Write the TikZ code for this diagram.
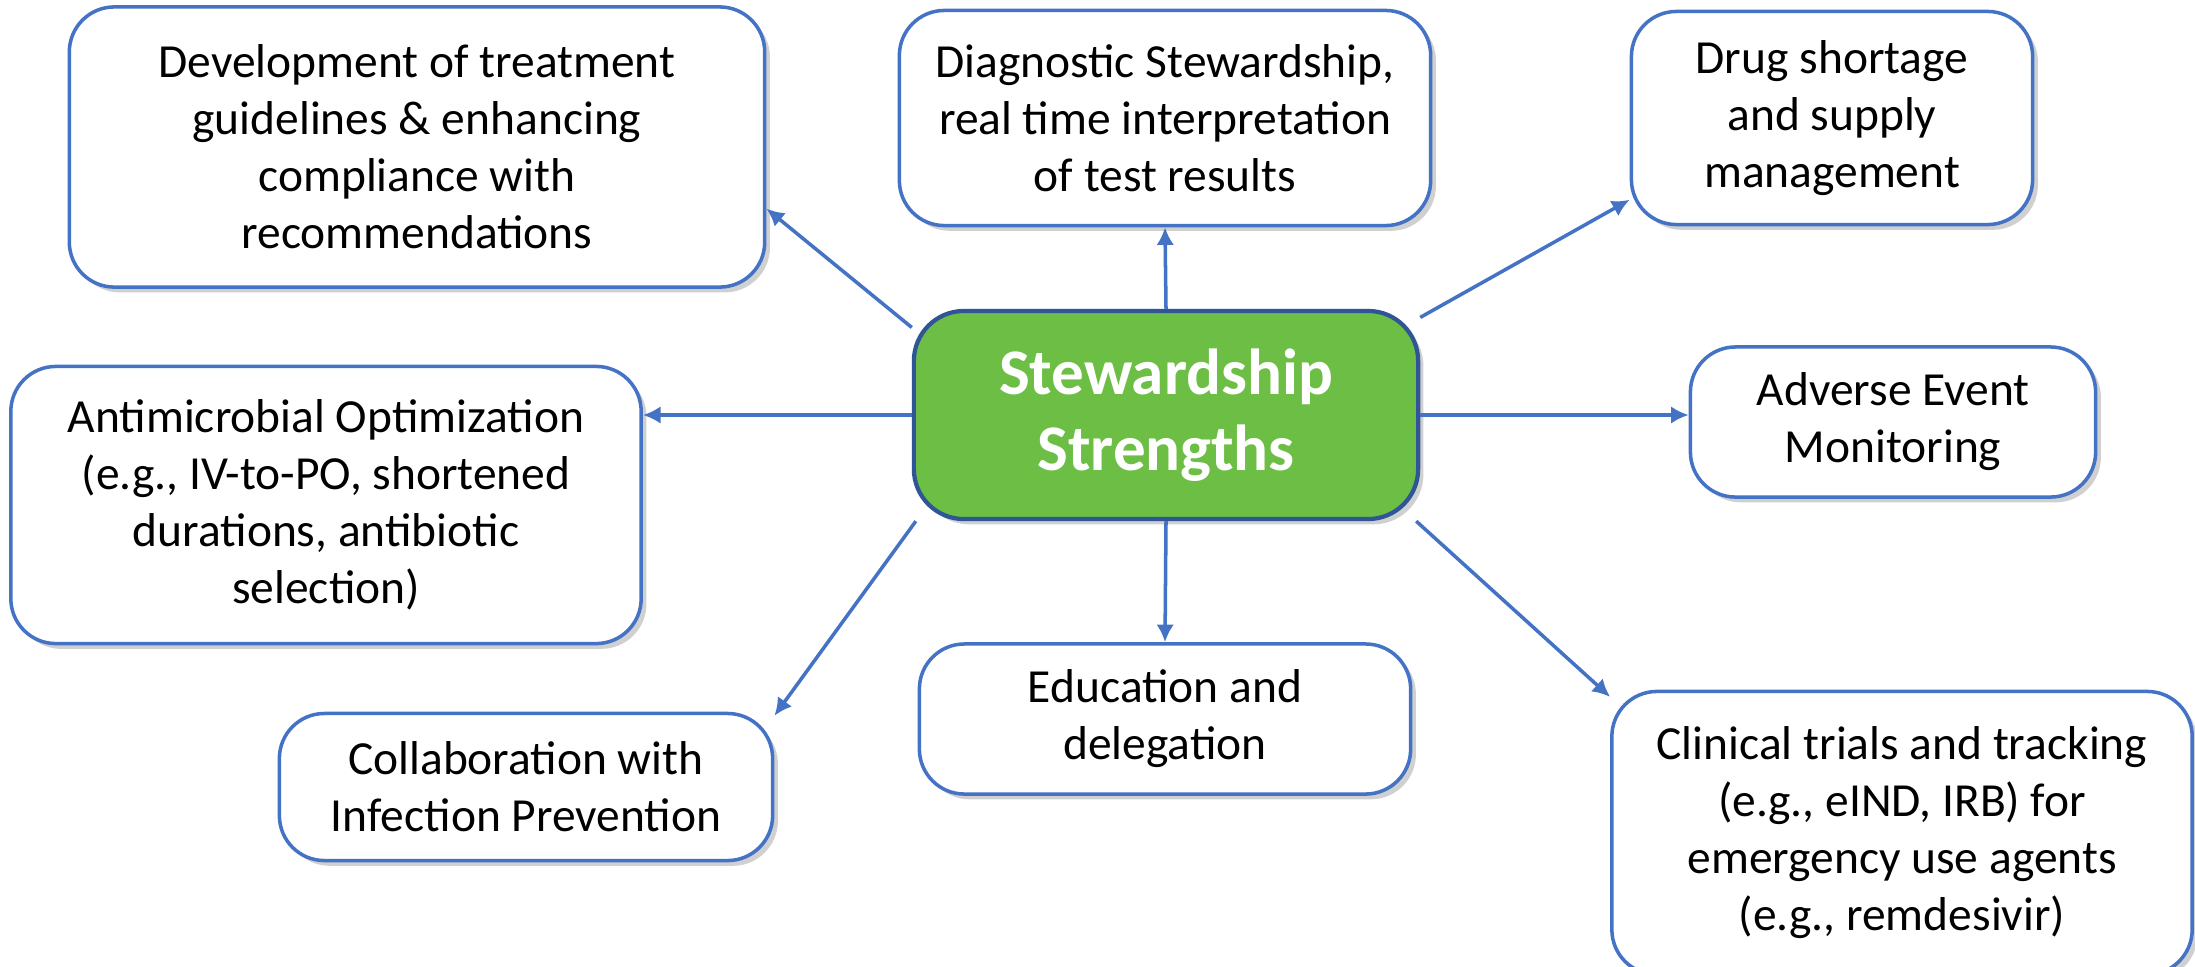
\documentclass[tikz,border=0pt]{standalone}
\usepackage{fontspec}
\setmainfont{Carlito}
\usetikzlibrary{positioning}
\usetikzlibrary{arrows.meta,shadows}

\definecolor{lineblue}{HTML}{4472C4}
\definecolor{hubgreen}{HTML}{6CBE45}
\definecolor{hubedge}{HTML}{2F5597}

\tikzset{
  topic/.style={draw=lineblue, line width=1pt, fill=white,
                rounded corners=0.45cm, align=center, inner sep=0pt,
                font=\fontsize{13.5}{16.2}\selectfont,
                drop shadow={shadow xshift=1.5pt, shadow yshift=-1.5pt,
                             opacity=0.3, fill=black!60}},
  hub/.style={draw=hubedge, line width=1.2pt, fill=hubgreen, text=white,
              rounded corners=0.5cm, align=center, inner sep=0pt,
              font=\fontsize{18.5}{21.5}\selectfont\bfseries,
              minimum width=5.04cm, minimum height=2.08cm,
              drop shadow={shadow xshift=1.5pt, shadow yshift=-1.5pt,
                           opacity=0.3, fill=black!60}},
  link/.style={draw=lineblue, line width=1pt, -{Latex[length=5pt,width=5pt]}}
}

\begin{document}
\begin{tikzpicture}[x=0.01cm,y=-0.01cm]
    \fill[white] (0,0) rectangle (2195,966);
    \useasboundingbox (0,0) rectangle (2195,966);

    % centre
    \node (hub) [hub] at (1166,415) {Stewardship\\Strengths};

    % topics round it
    \node (dev) [topic, minimum width=6.95cm, minimum height=2.8cm] at (417,147)
      {Development of treatment\\guidelines \& enhancing\\compliance with\\recommendations};
    \node (diag) [topic, minimum width=5.31cm, minimum height=2.15cm] at (1165,118)
      {Diagnostic Stewardship,\\real time interpretation\\of test results};
    \node (drug) [topic, minimum width=4.01cm, minimum height=2.13cm] at (1832,118)
      {Drug shortage\\and supply\\management};
    \node (anti) [topic, minimum width=6.3cm, minimum height=2.77cm] at (326,505)
      {Antimicrobial Optimization\\(e.g., IV-to-PO, shortened\\durations, antibiotic\\selection)};
    \node (adv) [topic, minimum width=4.05cm, minimum height=1.5cm] at (1893,422)
      {Adverse Event\\Monitoring};
    \node (collab) [topic, minimum width=4.93cm, minimum height=1.47cm] at (526,787)
      {Collaboration with\\Infection Prevention};
    \node (edu) [topic, minimum width=4.91cm, minimum height=1.5cm] at (1165,719)
      {Education and\\delegation};
    \node (clin) [topic, minimum width=5.8cm, minimum height=2.83cm] at (1902,833)
      {Clinical trials and tracking\\(e.g., eIND, IRB) for\\emergency use agents\\(e.g., remdesivir)};

    \foreach \from/\to in {hub.161/dev.-10, hub.north/diag.south, hub.21/drug.202,
                           hub.203/collab.16, hub.south/edu.north, hub.-23/clin.155} {
      \draw[link] (\from) -- (\to);
    }
    \draw[link] (hub.west) -- (hub.west -| anti.east);
    \draw[link] (hub.east) -- (hub.east -| adv.west);

  \end{tikzpicture}
\end{document}
